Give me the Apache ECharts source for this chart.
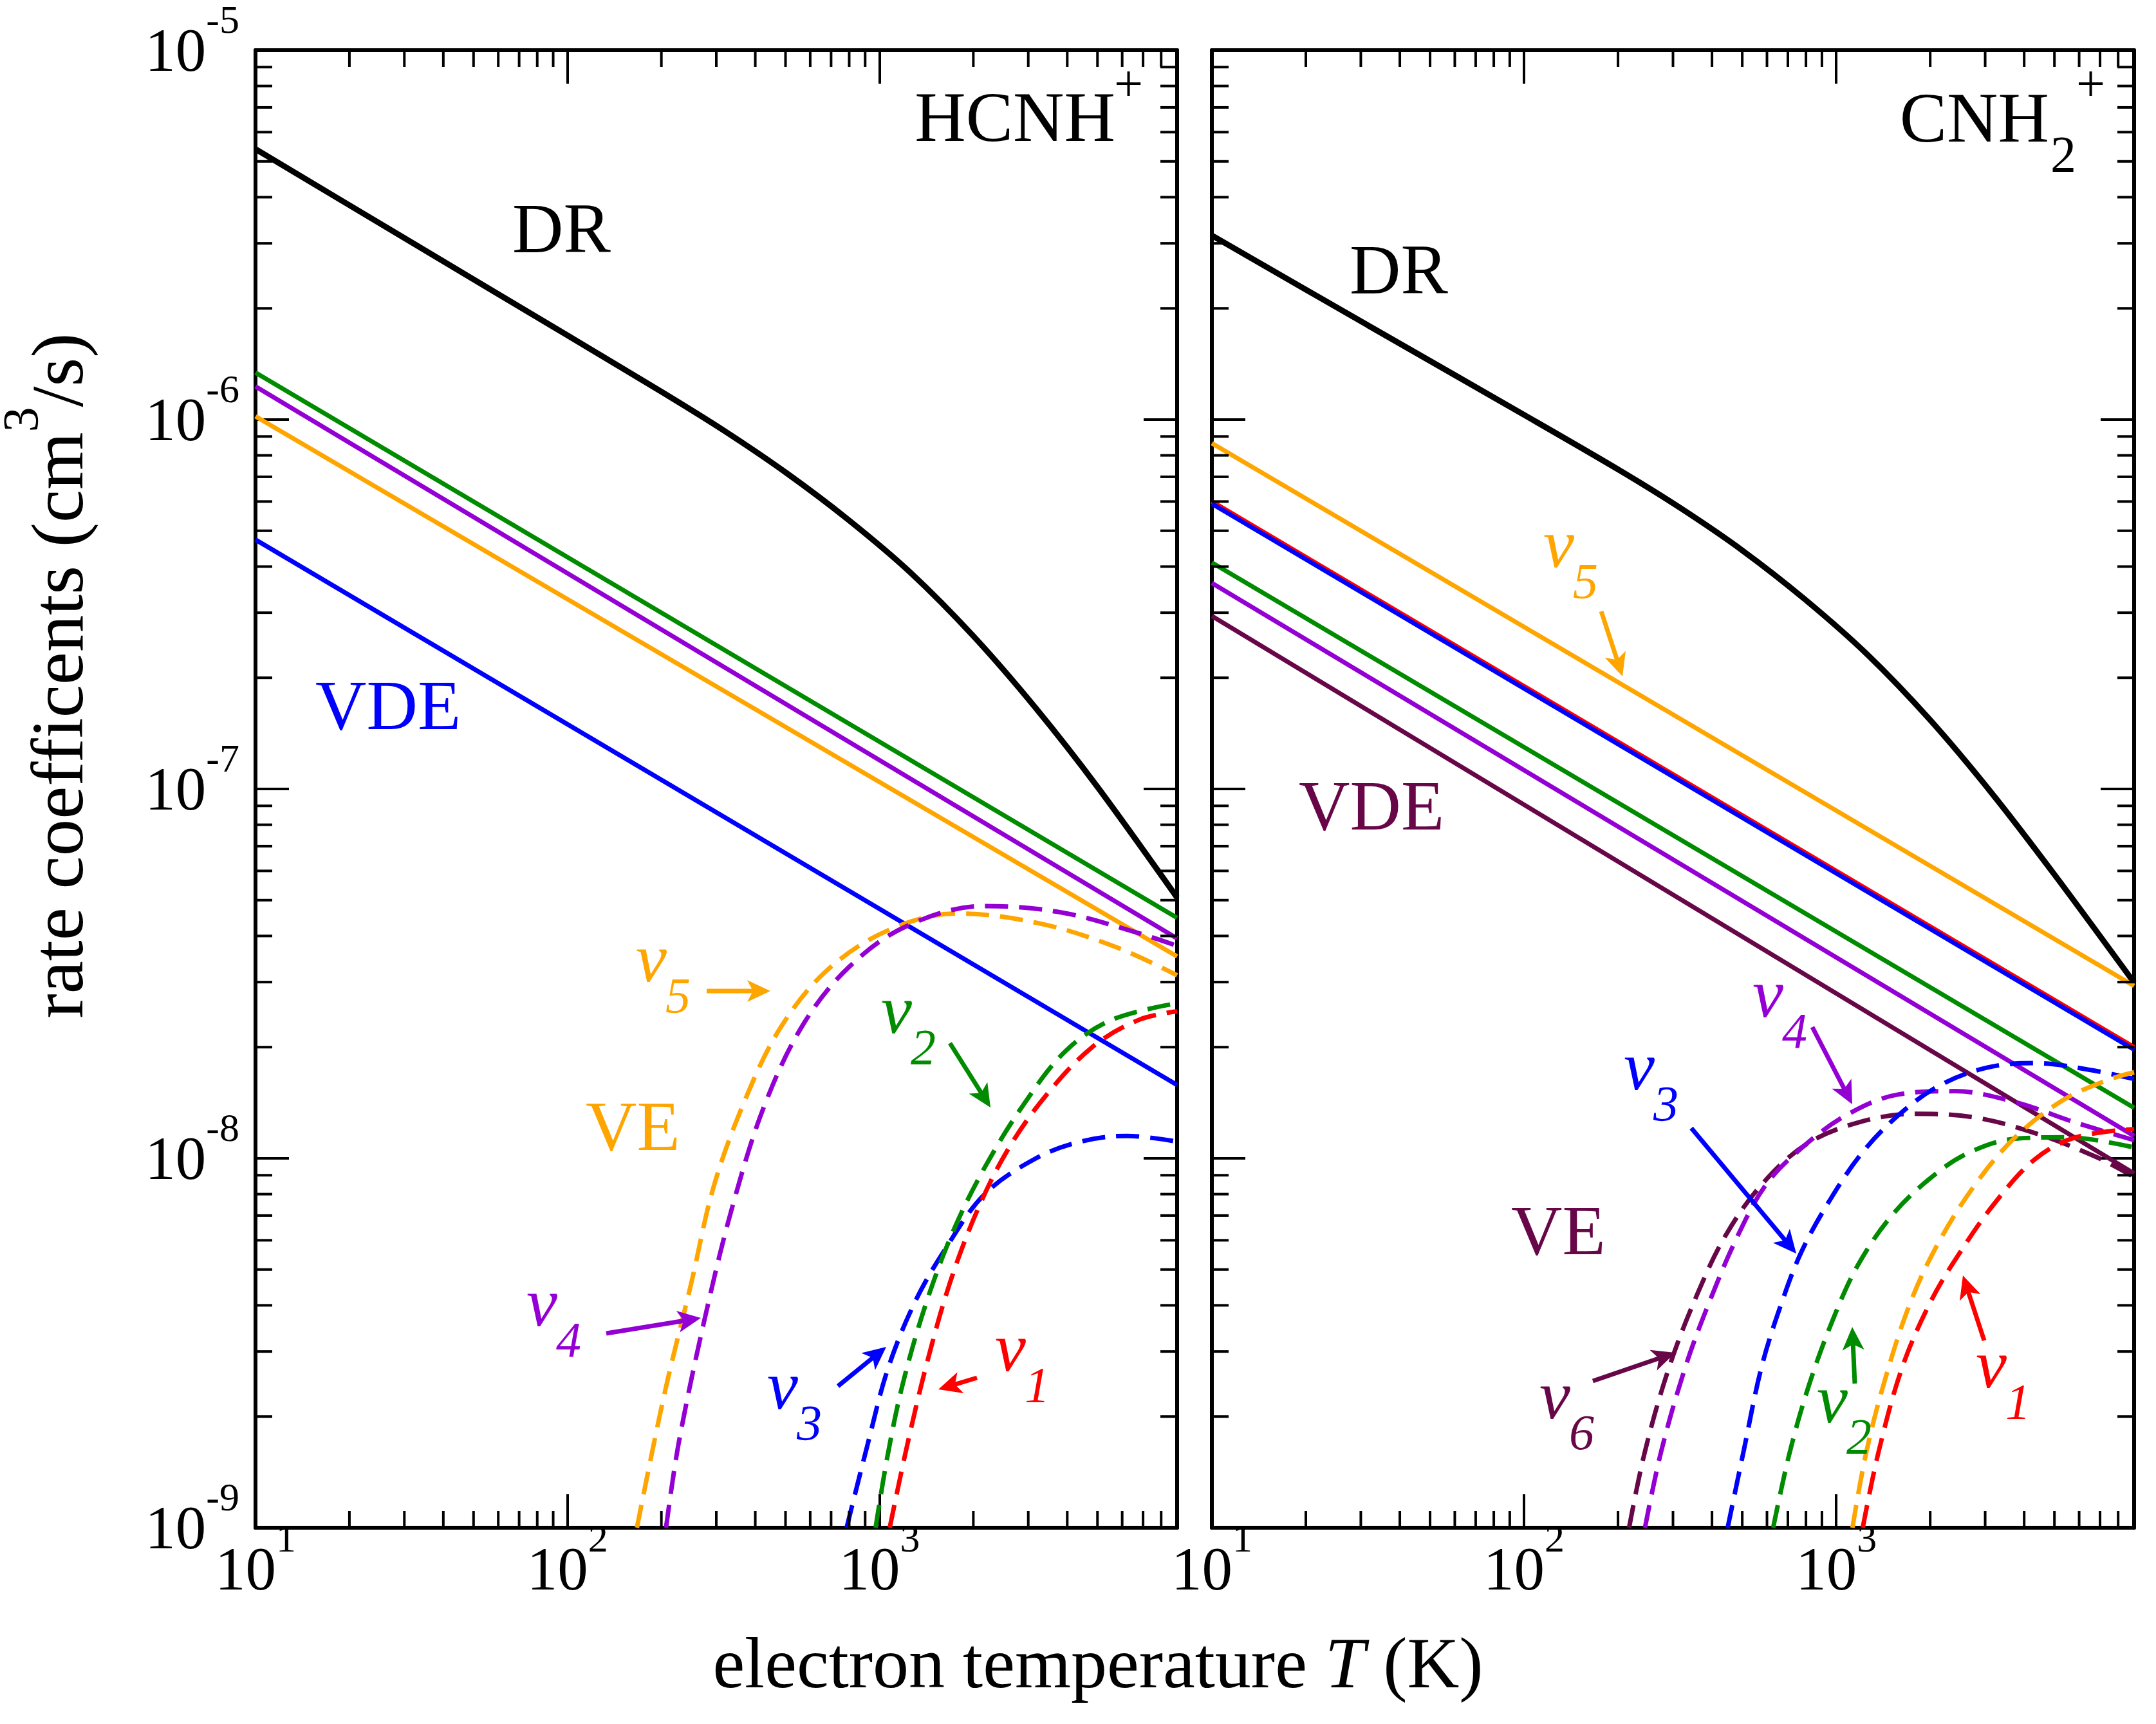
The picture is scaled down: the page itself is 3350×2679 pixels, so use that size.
<!DOCTYPE html>
<html><head><meta charset="utf-8">
<script src="https://cdn.jsdelivr.net/npm/echarts@6/dist/echarts.min.js"></script>
<style>html,body{margin:0;padding:0;background:#fff}#c{width:3350px;height:2679px}</style>
</head><body><div id="c"></div>
<script>
const FONT = '"Liberation Serif", "Times New Roman", serif';
const C = {black:'#000000', red:'#ff0000', green:'#008b00', blue:'#0000ff', violet:'#9400d3', orange:'#ffa500', maroon:'#670748'};

// ---------- tick values ----------
const xMinorTicks = [20,30,40,50,60,70,80,90,200,300,400,500,600,700,800,900,2000,3000,4000,5000,6000,7000,8000];
const yMinorTicks = [2e-9,3e-9,4e-9,5e-9,6e-9,7e-9,8e-9,9e-9,2e-8,3e-8,4e-8,5e-8,6e-8,7e-8,8e-8,9e-8,
                     2e-7,3e-7,4e-7,5e-7,6e-7,7e-7,8e-7,9e-7,2e-6,3e-6,4e-6,5e-6,6e-6,7e-6,8e-6,9e-6];

// ---------- HCNH+ (left panel) ----------
const hcnhDR   = [[10,5.40e-6],[31.6,3.02e-6],[100,1.69e-6],[200,1.19e-6],[316,9.36e-7],[501,7.19e-7],[794,5.36e-7],[1259,3.85e-7],[1995,2.60e-7],[3162,1.66e-7],[5012,1.01e-7],[9000,5.08e-8]];
const hcnhVDE_v2 = [[10,1.34e-6],[9000,4.48e-8]];
const hcnhVDE_v4 = [[10,1.23e-6],[9000,3.94e-8]];
const hcnhVDE_v5 = [[10,1.02e-6],[9000,3.52e-8]];
const hcnhVDE_v3 = [[10,4.73e-7],[9000,1.58e-8]];
const hcnhVE_v5 = [[167,1e-9],[204,2.28e-9],[249,4.57e-9],[295,8.45e-9],[371,1.44e-8],[479,2.24e-8],[674,3.21e-8],[1064,4.14e-8],[1775,4.6e-8],[3323,4.31e-8],[5880,3.7e-8],[9000,3.13e-8]];
const hcnhVE_v4 = [[207,1e-9],[228,1.72e-9],[279,3.86e-9],[340,7.55e-9],[428,1.39e-8],[569,2.30e-8],[800,3.30e-8],[1227,4.26e-8],[2168,4.82e-8],[3837,4.63e-8],[6780,4.07e-8],[9000,3.76e-8]];
const hcnhVE_v3 = [[785,1e-9],[923,1.72e-9],[1064,2.69e-9],[1299,4.08e-9],[1630,5.7e-9],[2168,7.98e-9],[3140,9.95e-9],[4416,1.11e-8],[6220,1.15e-8],[9000,1.11e-8]];
const hcnhVE_v2 = [[972,1e-9],[1064,1.58e-9],[1192,2.48e-9],[1415,4.08e-9],[1726,6.37e-9],[2168,9.4e-9],[2884,1.39e-8],[3947,1.95e-8],[5550,2.37e-8],[9000,2.63e-8]];
const hcnhVE_v1 = [[1079,1e-9],[1227,1.67e-9],[1415,2.76e-9],[1678,4.57e-9],[2047,7.14e-9],[2571,1.05e-8],[3420,1.48e-8],[4810,2.0e-8],[6780,2.37e-8],[9000,2.5e-8]];

// ---------- CNH2+ (right panel) ----------
const cnh2DR   = [[10,3.15e-6],[31.6,1.80e-6],[100,1.03e-6],[200,7.33e-7],[316,5.77e-7],[501,4.42e-7],[794,3.26e-7],[1259,2.31e-7],[1995,1.54e-7],[3162,9.70e-8],[5012,5.85e-8],[9000,2.99e-8]];
const cnh2VDE_v5 = [[10,8.63e-7],[9000,2.93e-8]];
const cnh2VDE_v1 = [[10,6.00e-7],[9000,2.00e-8]];
const cnh2VDE_v3 = [[10,5.92e-7],[9000,1.97e-8]];
const cnh2VDE_v2 = [[10,4.10e-7],[9000,1.37e-8]];
const cnh2VDE_v4 = [[10,3.61e-7],[9000,1.15e-8]];
const cnh2VDE_v6 = [[10,2.94e-7],[9000,9.1e-9]];
const cnh2VE_v6 = [[217,1e-9],[244,1.61e-9],[292,2.73e-9],[359,4.29e-9],[442,6.18e-9],[577,8.49e-9],[800,1.09e-8],[1175,1.25e-8],[1782,1.32e-8],[2786,1.29e-8],[4335,1.17e-8],[6780,1.01e-8],[9000,8.9e-9]];
const cnh2VE_v4 = [[244,1e-9],[275,1.61e-9],[329,2.73e-9],[393,4.10e-9],[484,6.18e-9],[596,8.49e-9],[778,1.07e-8],[1079,1.31e-8],[1585,1.49e-8],[2393,1.52e-8],[3741,1.42e-8],[5845,1.25e-8],[9000,1.12e-8]];
const cnh2VE_v3 = [[449,1e-9],[505,1.61e-9],[577,2.73e-9],[671,4.10e-9],[778,5.64e-9],[959,7.76e-9],[1216,1.04e-8],[1585,1.31e-8],[2128,1.57e-8],[3034,1.76e-8],[4335,1.81e-8],[6397,1.74e-8],[9000,1.64e-8]];
const cnh2VE_v2 = [[628,1e-9],[711,1.61e-9],[824,2.48e-9],[986,3.74e-9],[1175,5.15e-9],[1489,6.92e-9],[1954,8.69e-9],[2624,1.03e-8],[3741,1.13e-8],[5495,1.14e-8],[9000,1.07e-8]];
const cnh2VE_v5 = [[1127,1e-9],[1250,1.61e-9],[1449,2.60e-9],[1734,4.10e-9],[2128,5.92e-9],[2786,8.49e-9],[3741,1.14e-8],[5346,1.44e-8],[7413,1.63e-8],[9000,1.71e-8]];
const cnh2VE_v1 = [[1216,1e-9],[1368,1.61e-9],[1630,2.73e-9],[2009,4.10e-9],[2477,5.52e-9],[3229,7.59e-9],[4335,9.95e-9],[5845,1.14e-8],[9000,1.20e-8]];

// ---------- helpers ----------
function powLabel(v){
  const e = Math.log10(v); const r = Math.round(e);
  if (Math.abs(e - r) > 1e-6) return '';
  return '{b|10}{s|' + r + '}';
}
const tickRich = {
  b:{fontFamily:FONT, fontSize:95, lineHeight:100, verticalAlign:'bottom', color:'#000'},
  s:{fontFamily:FONT, fontSize:62, lineHeight:62, padding:[0,0,67,0], verticalAlign:'bottom', color:'#000'}
};
function xAx(gi, pos, showLabel){
  return {type:'log', logBase:10, gridIndex:gi, position:pos, min:10, max:9000,
    axisLine:{show:true, onZero:false, lineStyle:{color:'#000', width:6}},
    axisTick:{show:true, inside:true, length:52, lineStyle:{color:'#000', width:4}},
    minorTick:{show:false}, splitLine:{show:false},
    axisLabel:{show:showLabel, margin:19, formatter:powLabel, rich:tickRich}};
}
function yAx(gi, pos, showLabel){
  return {type:'log', logBase:10, gridIndex:gi, position:pos, min:1e-9, max:1e-5,
    axisLine:{show:true, onZero:false, lineStyle:{color:'#000', width:6}},
    axisTick:{show:true, inside:true, length:52, lineStyle:{color:'#000', width:4}},
    minorTick:{show:false}, splitLine:{show:false},
    axisLabel:{show:showLabel, margin:25, padding:[10,0,0,0], formatter:powLabel, rich:tickRich}};
}
function ln(data, color, width, dashed, xi, yi, smooth){
  return {type:'line', data, xAxisIndex:xi, yAxisIndex:yi, showSymbol:false, symbol:'none',
    smooth: smooth || false, silent:true, animation:false, clip:true,
    lineStyle:{color, width, type: dashed ? [36,17] : 'solid', cap:'butt'}};
}
function minorSeries(xi, yi){
  const data = xMinorTicks.map(v => [v, 1e-7, 0]).concat(yMinorTicks.map(v => [100, v, 1]));
  return {type:'custom', xAxisIndex:xi, yAxisIndex:yi, silent:true, animation:false, clip:false, z:10,
    encode:{x:0, y:1}, data,
    renderItem(params, api){
      const cs = params.coordSys; const L = 26; const st = {stroke:'#000', lineWidth:4};
      const p = api.coord([api.value(0), api.value(1)]);
      if (api.value(2) === 0){
        const px = p[0];
        return {type:'group', children:[
          {type:'line', shape:{x1:px, y1:cs.y+cs.height, x2:px, y2:cs.y+cs.height-L}, style:st},
          {type:'line', shape:{x1:px, y1:cs.y, x2:px, y2:cs.y+L}, style:st}]};
      } else {
        const py = p[1];
        return {type:'group', children:[
          {type:'line', shape:{x1:cs.x, y1:py, x2:cs.x+L, y2:py}, style:st},
          {type:'line', shape:{x1:cs.x+cs.width, y1:py, x2:cs.x+cs.width-L, y2:py}, style:st}]};
      }
    }};
}
function txt(x, base, str, size, color, italic, align){
  const a = align || 'left';
  return {type:'text', x:x, y: base - 0.3375*size, silent:true, z:100,
    style:{text:str, fill:color, fontSize:size, fontFamily:FONT, fontStyle: italic ? 'italic' : 'normal',
      align:a, textAlign:a, verticalAlign:'middle', textVerticalAlign:'middle'}};
}
function nu(x, base, digit, color){
  return [txt(x, base, 'v', 108, color, true), txt(x + 46, base + 46, digit, 78, color, true)];
}
function arrow(x1, y1, x2, y2, color){
  const dx = x2-x1, dy = y2-y1, len = Math.hypot(dx,dy), ux = dx/len, uy = dy/len;
  const hl = 36, hw = 17;
  const bx = x2-ux*hl, by = y2-uy*hl;
  return [
    {type:'line', silent:true, z:100, shape:{x1:x1, y1:y1, x2:bx+ux*10, y2:by+uy*10}, style:{stroke:color, lineWidth:7}},
    {type:'polygon', silent:true, z:100, shape:{points:[[x2,y2],[bx-uy*hw, by+ux*hw],[bx+ux*9, by+uy*9],[bx+uy*hw, by-ux*hw]]}, style:{fill:color}}
  ];
}

const graphics = [].concat(
  // panel titles
  [txt(1733, 227, 'HCNH', 110, C.black, false, 'right'), txt(1731, 163, '+', 80, C.black, false),
   txt(3184, 228, 'CNH', 110, C.black, false, 'right'), txt(3186, 273, '2', 80, C.black, false), txt(3226, 163, '+', 80, C.black, false)],
  // left panel labels
  [txt(796, 400, 'DR', 110, C.black), txt(490, 1141, 'VDE', 110, C.blue), txt(910, 1795, 'VE', 110, C.orange)],
  nu(988, 1533, '5', C.orange), arrow(1098, 1540, 1197, 1540, C.orange),
  nu(818, 2068, '4', C.violet), arrow(942, 2072, 1089, 2048, C.violet),
  nu(1192, 2197, '3', C.blue), arrow(1302, 2154, 1377, 2093, C.blue),
  nu(1546, 2138, '1', C.red), arrow(1518, 2141, 1458, 2159, C.red),
  nu(1369, 1613, '2', C.green), arrow(1476, 1621, 1539, 1721, C.green),
  // right panel labels
  [txt(2097, 464, 'DR', 110, C.black), txt(2018, 1297, 'VDE', 110, C.maroon), txt(2348, 1957, 'VE', 110, C.maroon)],
  nu(2398, 889, '5', C.orange), arrow(2488, 950, 2521, 1051, C.orange),
  nu(2723, 1588, '4', C.violet), arrow(2816, 1596, 2878, 1716, C.violet),
  nu(2523, 1701, '3', C.blue), arrow(2628, 1753, 2791, 1948, C.blue),
  nu(2392, 2212, '6', C.maroon), arrow(2475, 2146, 2603, 2102, C.maroon),
  nu(2823, 2218, '2', C.green), arrow(2882, 2150, 2878, 2062, C.green),
  nu(3070, 2164, '1', C.red), arrow(3083, 2083, 3050, 1982, C.red),
  // axis titles
  [{type:'text', x:95, y:1050, rotation:Math.PI/2, silent:true, z:100,
    style:{text:'{a|rate coefficents (cm}{s|3}{a|/s)}',
      rich:{a:{fontSize:115, fontFamily:FONT, fill:'#000', color:'#000', lineHeight:120, verticalAlign:'bottom'},
            s:{fontSize:78, fontFamily:FONT, fill:'#000', color:'#000', lineHeight:78, padding:[0,0,78,0], verticalAlign:'bottom'}},
      align:'center', textAlign:'center', verticalAlign:'middle', textVerticalAlign:'middle'}},
   {type:'text', x:1706, y:2630 - 0.3375*112, silent:true, z:100,
    style:{text:'{a|electron temperature }{i|T}{a| (K)}',
      rich:{a:{fontSize:112, fontFamily:FONT, fill:'#000', color:'#000', lineHeight:112},
            i:{fontSize:112, fontFamily:FONT, fontStyle:'italic', fill:'#000', color:'#000', lineHeight:112}},
      align:'center', textAlign:'center', verticalAlign:'middle', textVerticalAlign:'middle'}}]
);

const chart = echarts.init(document.getElementById('c'), null, {renderer:'canvas', devicePixelRatio:1});
chart.setOption({
  animation:false,
  backgroundColor:'#ffffff',
  grid:[
    {left:397, top:78, width:1432, height:2296},
    {left:1883, top:78, width:1433, height:2296}
  ],
  xAxis:[xAx(0,'bottom',true), xAx(0,'top',false), xAx(1,'bottom',true), xAx(1,'top',false)],
  yAxis:[yAx(0,'left',true), yAx(0,'right',false), yAx(1,'left',false), yAx(1,'right',false)],
  series:[
    minorSeries(0,0), minorSeries(2,2),
    ln(hcnhDR, C.black, 9, false, 0, 0, 0.3),
    ln(hcnhVDE_v2, C.green, 7, false, 0, 0),
    ln(hcnhVDE_v4, C.violet, 7, false, 0, 0),
    ln(hcnhVDE_v5, C.orange, 7, false, 0, 0),
    ln(hcnhVDE_v3, C.blue, 7, false, 0, 0),
    ln(hcnhVE_v5, C.orange, 7, true, 0, 0, 0.35),
    ln(hcnhVE_v4, C.violet, 7, true, 0, 0, 0.35),
    ln(hcnhVE_v3, C.blue, 7, true, 0, 0, 0.35),
    ln(hcnhVE_v2, C.green, 7, true, 0, 0, 0.35),
    ln(hcnhVE_v1, C.red, 7, true, 0, 0, 0.35),
    ln(cnh2DR, C.black, 9, false, 2, 2, 0.3),
    ln(cnh2VDE_v5, C.orange, 7, false, 2, 2),
    ln(cnh2VDE_v1, C.red, 7, false, 2, 2),
    ln(cnh2VDE_v3, C.blue, 7, false, 2, 2),
    ln(cnh2VDE_v2, C.green, 7, false, 2, 2),
    ln(cnh2VDE_v4, C.violet, 7, false, 2, 2),
    ln(cnh2VDE_v6, C.maroon, 7, false, 2, 2),
    ln(cnh2VE_v6, C.maroon, 7, true, 2, 2, 0.35),
    ln(cnh2VE_v4, C.violet, 7, true, 2, 2, 0.35),
    ln(cnh2VE_v3, C.blue, 7, true, 2, 2, 0.35),
    ln(cnh2VE_v2, C.green, 7, true, 2, 2, 0.35),
    ln(cnh2VE_v5, C.orange, 7, true, 2, 2, 0.35),
    ln(cnh2VE_v1, C.red, 7, true, 2, 2, 0.35)
  ],
  graphic: graphics
});
</script></body></html>
